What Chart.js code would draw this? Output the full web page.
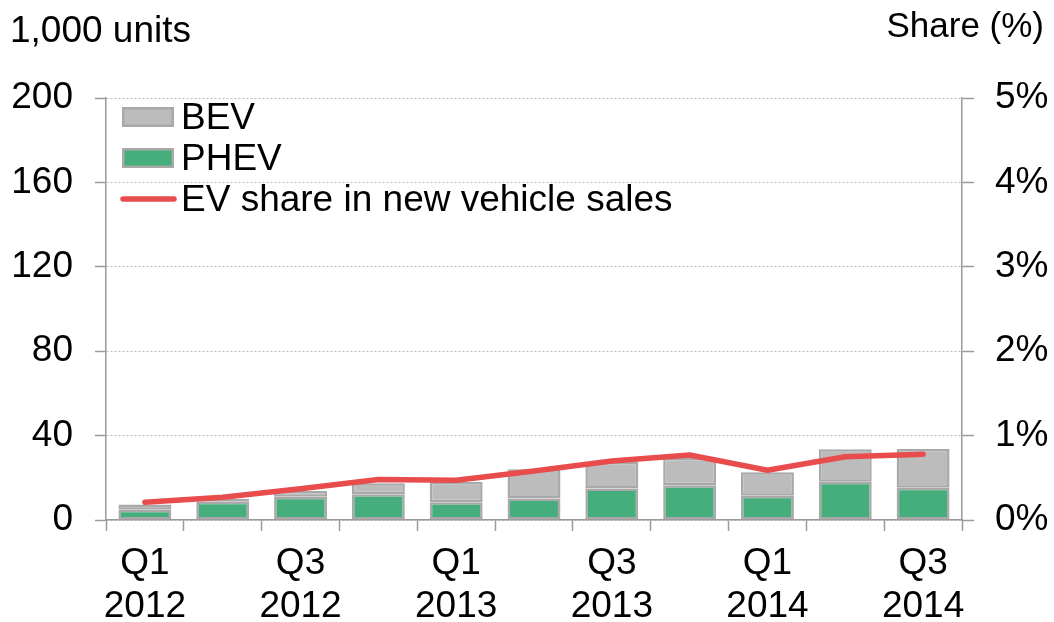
<!DOCTYPE html>
<html>
<head>
<meta charset="utf-8">
<script src="https://cdn.jsdelivr.net/npm/chart.js@4/dist/chart.umd.min.js"></script>
<style>
  html, body { margin: 0; padding: 0; background: #fff; }
  #wrap { width: 1054px; height: 622px; position: relative; }
</style>
</head>
<body>
<div id="wrap"><canvas id="evChart"></canvas></div>
<script>
// quarterly EV sales (1,000 units) and EV share of new vehicle sales (%)
const quarters = [
  ['Q1', '2012'], '', ['Q3', '2012'], '',
  ['Q1', '2013'], '', ['Q3', '2013'], '',
  ['Q1', '2014'], '', ['Q3', '2014']
];
const phevSales = [4.8, 8.6, 11.0, 12.2, 8.4, 10.2, 14.9, 16.5, 11.5, 18.1, 15.3];
const bevSales = [2.6, 1.5, 2.7, 5.2, 9.6, 13.8, 12.7, 13.0, 11.1, 15.4, 18.3];
const evShare = [0.21, 0.27, 0.37, 0.48, 0.47, 0.58, 0.70, 0.77, 0.59, 0.75, 0.78];
const unitTicks = [0, 40, 80, 120, 160, 200];
const shareTicks = [0, 1, 2, 3, 4, 5];

const FONT = '"Liberation Sans", Arial, sans-serif';
const GREY = '#bdbcbc';
const GREEN = '#45ae7c';
const EDGE = '#a9a9a9';
const RED = '#e84c4c';
const AXIS = '#9a9a9a';

// axis captions and the legend box in the upper left of the plot
const decorations = {
  id: 'decorations',
  afterDraw(chart) {
    const ctx = chart.ctx;
    ctx.save();
    ctx.fillStyle = '#000';
    ctx.font = '37px ' + FONT;
    ctx.textBaseline = 'alphabetic';
    ctx.textAlign = 'left';
    ctx.fillText('1,000 units', 10, 42);
    ctx.font = '35px ' + FONT;
    ctx.textAlign = 'right';
    ctx.fillText('Share (%)', 1044, 37);

    const items = [
      { text: 'BEV', kind: 'box', fill: GREY },
      { text: 'PHEV', kind: 'box', fill: GREEN },
      { text: 'EV share in new vehicle sales', kind: 'line', fill: RED }
    ];
    ctx.font = '37px ' + FONT;
    ctx.textAlign = 'left';
    ctx.textBaseline = 'middle';
    items.forEach((it, i) => {
      const cy = 117 + i * 41;
      if (it.kind === 'box') {
        ctx.fillStyle = it.fill;
        ctx.fillRect(122, cy - 10, 52, 20);
        ctx.strokeStyle = EDGE;
        ctx.lineWidth = 2.5;
        ctx.strokeRect(123.25, cy - 8.75, 49.5, 17.5);
      } else {
        ctx.strokeStyle = it.fill;
        ctx.lineWidth = 5.5;
        ctx.lineCap = 'round';
        ctx.beginPath();
        ctx.moveTo(123, cy);
        ctx.lineTo(174, cy);
        ctx.stroke();
      }
      ctx.fillStyle = '#000';
      ctx.fillText(it.text, 181, cy + 2);
    });
    ctx.restore();
  }
};

new Chart(document.getElementById('evChart'), {
  data: {
    labels: quarters,
    datasets: [
      {
        type: 'line',
        label: 'EV share in new vehicle sales',
        data: evShare,
        yAxisID: 'y1',
        borderColor: RED,
        borderWidth: 5.5,
        borderCapStyle: 'round',
        borderJoinStyle: 'round',
        pointRadius: 0,
        tension: 0,
        order: 0
      },
      {
        type: 'bar',
        label: 'PHEV',
        data: phevSales,
        yAxisID: 'y',
        backgroundColor: GREEN,
        borderColor: EDGE,
        borderWidth: 2.5,
        borderSkipped: false,
        barPercentage: 0.68,
        categoryPercentage: 1,
        order: 1
      },
      {
        type: 'bar',
        label: 'BEV',
        data: bevSales,
        yAxisID: 'y',
        backgroundColor: GREY,
        borderColor: EDGE,
        borderWidth: 2.5,
        borderSkipped: false,
        barPercentage: 0.68,
        categoryPercentage: 1,
        order: 2
      }
    ]
  },
  options: {
    responsive: true,
    maintainAspectRatio: false,
    animation: false,
    layout: { padding: { top: 98, left: 0, right: 0, bottom: 0 } },
    plugins: {
      legend: { display: false },
      tooltip: { enabled: false }
    },
    scales: {
      x: {
        stacked: true,
        afterFit(scale) { scale.height = 102; },
        border: { color: AXIS, width: 1.5 },
        grid: {
          offset: true,
          drawOnChartArea: false,
          tickLength: 11,
          tickColor: AXIS,
          tickWidth: 1.5
        },
        ticks: {
          color: '#000',
          font: { family: FONT, size: 37, lineHeight: 1.17 },
          padding: 11,
          maxRotation: 0,
          autoSkip: false
        }
      },
      y: {
        position: 'left',
        stacked: true,
        min: 0,
        max: 200,
        afterFit(scale) { scale.width = 106; },
        afterBuildTicks(scale) { scale.ticks = unitTicks.map(v => ({ value: v })); },
        border: { color: AXIS, width: 1.5, dash: [2, 2] },
        grid: {
          color: '#bdbdbd',
          lineWidth: 1,
          tickLength: 11,
          tickColor: AXIS,
          tickWidth: 1.5,
          tickBorderDash: []
        },
        ticks: {
          color: '#000',
          font: { family: FONT, size: 37 },
          padding: 22
        }
      },
      y1: {
        position: 'right',
        stacked: false,
        min: 0,
        max: 5,
        afterFit(scale) { scale.width = 92; },
        afterBuildTicks(scale) { scale.ticks = shareTicks.map(v => ({ value: v })); },
        border: { color: AXIS, width: 1.5 },
        grid: {
          drawOnChartArea: false,
          tickLength: 12,
          tickColor: AXIS,
          tickWidth: 1.5
        },
        ticks: {
          color: '#000',
          font: { family: FONT, size: 37 },
          padding: 21,
          callback: v => v + '%'
        }
      }
    }
  },
  plugins: [decorations]
});
</script>
</body>
</html>
